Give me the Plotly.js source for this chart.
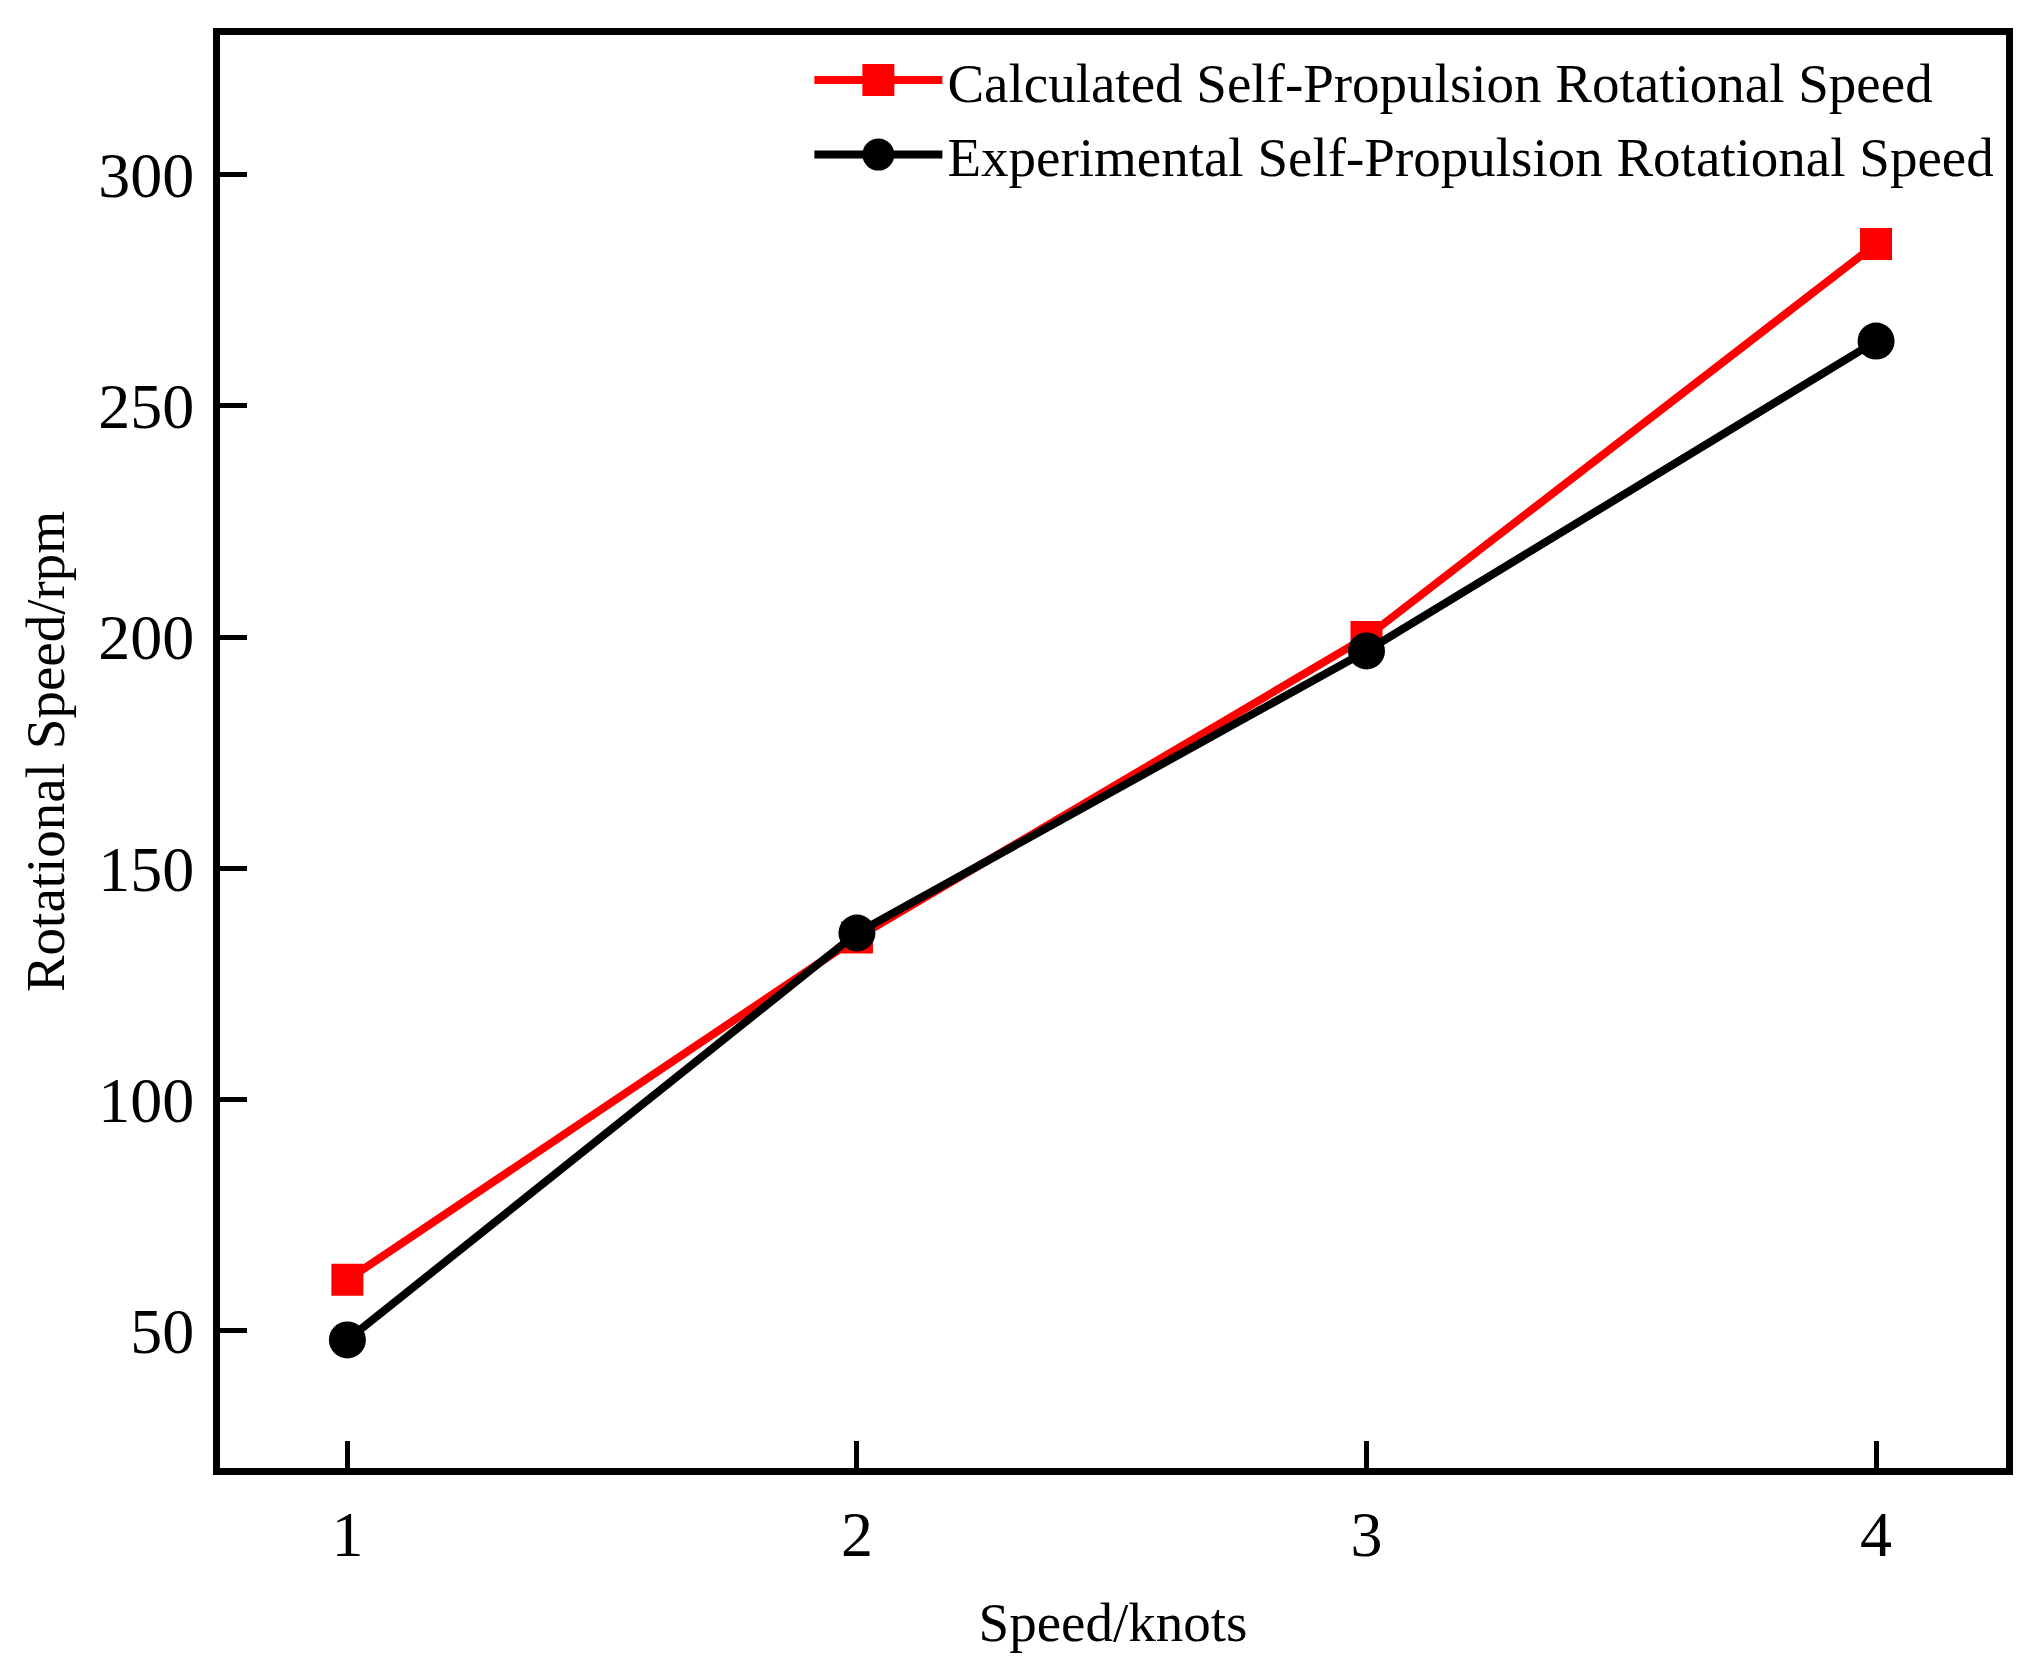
<!DOCTYPE html>
<html>
<head>
<meta charset="utf-8">
<script src="https://cdn.plot.ly/plotly-3.0.1.min.js"></script>
<style>
  html, body { margin: 0; padding: 0; background: #fff; }
  #graphDiv { width: 2036px; height: 1668px; }
</style>
</head>
<body>
<div id="graphDiv"></div>
<script>
// rotational speed vs ship speed

const speedKnots = [1, 2, 3, 4]
const calcRpm = [61, 135, 200, 285]
const expRpm = [48, 136, 197, 264]
const calcName = 'Calculated Self-Propulsion Rotational Speed'
const expName = 'Experimental Self-Propulsion Rotational Speed'
const yTicks = [50, 100, 150, 200, 250, 300]

const serif = 'Liberation Serif, Times New Roman, serif'

let graphDiv = document.getElementById('graphDiv')

let traceCalc = {
    x: speedKnots,
    y: calcRpm,
    name: calcName,
    type: 'scatter',
    mode: 'lines+markers',
    line: { color: '#ff0000', width: 8 },
    marker: { color: '#ff0000', symbol: 'square', size: 32 }
}
let traceExp = {
    x: speedKnots,
    y: expRpm,
    name: expName,
    type: 'scatter',
    mode: 'lines+markers',
    line: { color: '#000000', width: 8 },
    marker: { color: '#000000', symbol: 'circle', size: 37 }
}

const axisCommon = {
    showline: true,
    linecolor: '#000',
    linewidth: 7,
    mirror: true,
    showgrid: false,
    zeroline: false,
    ticks: 'inside',
    ticklen: 27,
    tickwidth: 5,
    tickcolor: '#000',
    tickfont: { family: serif, size: 64, color: '#000' }
}

const layout = {
    width: 2036,
    height: 1668,
    margin: { l: 220, r: 30, t: 35, b: 200 },
    paper_bgcolor: '#fff',
    plot_bgcolor: '#fff',
    font: { family: serif, color: '#000' },
    showlegend: true,
    legend: {
        x: 0.33,
        y: 0.998,
        xanchor: 'left',
        yanchor: 'top',
        bgcolor: 'rgba(0,0,0,0)',
        itemwidth: 128,
        font: { family: serif, size: 55, color: '#000' }
    },
    xaxis: Object.assign({}, axisCommon, {
        range: [0.75, 4.255],
        tickvals: speedKnots,
        ticklabelstandoff: 4,
        title: { text: 'Speed/knots', font: { family: serif, size: 55, color: '#000' }, standoff: 36 }
    }),
    yaxis: Object.assign({}, axisCommon, {
        range: [20.3, 330.2],
        tickvals: yTicks,
        ticklabelstandoff: 6,
        title: { text: 'Rotational Speed/rpm', font: { family: serif, size: 55, color: '#000' }, standoff: 18 }
    })
}

Plotly.newPlot(graphDiv, [traceCalc, traceExp], layout, { staticPlot: true }).then(function() {
    // legend symbols in the reference are as large as the plot markers
    graphDiv.querySelectorAll('.legend path.scatterpts').forEach(function(p) {
        let t = p.getAttribute('transform') || ''
        p.setAttribute('transform', t + ' scale(2)')
    })
})
</script>
</body>
</html>
